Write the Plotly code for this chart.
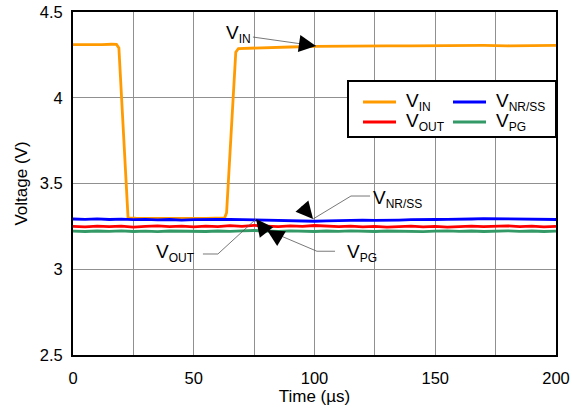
import plotly.graph_objects as go

# Time base (µs) for the regulated rails
t_us = [0, 5, 10, 15, 20, 25, 30, 35, 40, 45, 50, 55, 60, 65, 70, 75, 80, 85, 90, 95,
        100, 105, 110, 115, 120, 125, 130, 135, 140, 145, 150, 155, 160, 165, 170, 175,
        180, 185, 190, 195, 200]

v_nrss = [3.293, 3.291, 3.294, 3.290, 3.292, 3.289, 3.291, 3.288, 3.290, 3.287, 3.289,
          3.288, 3.290, 3.291, 3.289, 3.290, 3.286, 3.284, 3.282, 3.281, 3.280, 3.282,
          3.284, 3.283, 3.286, 3.285, 3.288, 3.287, 3.289, 3.288, 3.290, 3.291, 3.290,
          3.293, 3.295, 3.294, 3.292, 3.290, 3.291, 3.289, 3.290]

v_out = [3.250, 3.247, 3.252, 3.248, 3.251, 3.246, 3.250, 3.253, 3.248, 3.251, 3.247,
         3.252, 3.249, 3.254, 3.250, 3.256, 3.252, 3.249, 3.253, 3.250, 3.255, 3.251,
         3.248, 3.252, 3.247, 3.250, 3.246, 3.249, 3.251, 3.247, 3.250, 3.246, 3.249,
         3.252, 3.248, 3.250, 3.253, 3.249, 3.251, 3.247, 3.250]

v_pg = [3.222, 3.220, 3.223, 3.221, 3.224, 3.220, 3.222, 3.219, 3.223, 3.221, 3.222,
        3.220, 3.223, 3.221, 3.224, 3.226, 3.223, 3.221, 3.224, 3.222, 3.220, 3.223,
        3.221, 3.224, 3.222, 3.220, 3.223, 3.221, 3.222, 3.219, 3.222, 3.224, 3.221,
        3.223, 3.220, 3.222, 3.224, 3.221, 3.223, 3.220, 3.222]

# Input line-transient trace
t_in = [0, 4, 8, 12, 16, 18, 19, 22.8, 26, 30, 35, 40, 45, 50, 55, 60, 62.8, 63.6, 67.4,
        68.5, 75, 80, 90, 100, 110, 120, 130, 140, 150, 160, 170, 180, 190, 200]
v_in = [4.310, 4.309, 4.311, 4.310, 4.312, 4.311, 4.290, 3.300, 3.298, 3.299, 3.296,
        3.297, 3.295, 3.297, 3.296, 3.298, 3.300, 3.330, 4.265, 4.287, 4.291, 4.294,
        4.296, 4.300, 4.302, 4.301, 4.303, 4.302, 4.304, 4.303, 4.305, 4.303, 4.304,
        4.305]

C_IN, C_NR, C_OUT, C_PG = "#FF9B00", "#0000FF", "#FF0000", "#339966"
FONT = "Liberation Sans, Arial, sans-serif"
GRID = "#909090"


def vlabel(sub):
    """Voltage name with a small subscript."""
    return f"V<sub><span style='font-size:12px'>{sub}</span></sub>"


fig = go.Figure()
fig.add_trace(go.Scatter(x=t_in, y=v_in, mode="lines", line=dict(color=C_IN, width=2.8),
                         showlegend=False))
fig.add_trace(go.Scatter(x=t_us, y=v_pg, mode="lines", line=dict(color=C_PG, width=2.8),
                         showlegend=False))
fig.add_trace(go.Scatter(x=t_us, y=v_out, mode="lines", line=dict(color=C_OUT, width=2.8),
                         showlegend=False))
fig.add_trace(go.Scatter(x=t_us, y=v_nrss, mode="lines", line=dict(color=C_NR, width=2.8),
                         showlegend=False))

shapes = []
annotations = []

# Callout leader lines (data coordinates) and arrow tips
callouts = [
    # label, label position, leader polyline, arrow tip, arrow back-offset (px)
    ("IN", (68.5, 4.372), [(74.5, 4.354), (100.6, 4.302)], (100.6, 4.302), (-18, -2.6)),
    ("NR/SS", (134.5, 3.412), [(123.0, 3.427), (115.1, 3.427), (99.4, 3.293)], (99.4, 3.293), (-12.5, -14.5)),
    ("OUT", (42.5, 3.095), [(53.8, 3.089), (60.0, 3.089), (75.8, 3.293)], (75.8, 3.293), (10.5, 13.5)),
    ("PG", (119.5, 3.095), [(108.5, 3.105), (101.0, 3.105), (80.3, 3.229)], (80.3, 3.229), (16, 9.5)),
]
for sub, (lx, ly), pts, (tx, ty), (ax, ay) in callouts:
    path = "M " + " L ".join(f"{x},{y}" for x, y in pts)
    shapes.append(dict(type="path", path=path, xref="x", yref="y",
                       line=dict(color="#555555", width=0.8)))
    annotations.append(dict(x=lx, y=ly, xref="x", yref="y", text=vlabel(sub), showarrow=False,
                            font=dict(family=FONT, size=19, color="black")))
    annotations.append(dict(x=tx, y=ty, xref="x", yref="y", text="", showarrow=True,
                            ax=ax, ay=ay, axref="pixel", ayref="pixel",
                            arrowhead=2, arrowsize=3.4, arrowwidth=1, arrowcolor="black"))

# Boxed legend in the upper right of the plot
shapes.append(dict(type="rect", xref="paper", yref="paper",
                   x0=(348 - 73) / 483, x1=1.0, y0=(355 - 137) / 343, y1=(355 - 81) / 343,
                   fillcolor="white", line=dict(color="black", width=2), layer="above"))
legend_items = [
    ("IN", C_IN, 363, 102),
    ("NR/SS", C_NR, 453, 102),
    ("OUT", C_OUT, 363, 122),
    ("PG", C_PG, 453, 122),
]
for sub, color, px, py in legend_items:
    yy = (355 - py) / 343
    shapes.append(dict(type="line", xref="paper", yref="paper",
                       x0=(px - 73) / 483, x1=(px + 33 - 73) / 483, y0=yy, y1=yy,
                       line=dict(color=color, width=2.8), layer="above"))
    annotations.append(dict(x=(px + 41 - 73) / 483, y=yy, xref="paper", yref="paper",
                            text=vlabel(sub), showarrow=False, xanchor="left", yanchor="middle",
                            font=dict(family=FONT, size=19, color="black")))

fig.update_layout(
    width=572, height=408,
    margin=dict(l=73, r=16, t=12, b=53, autoexpand=False),
    paper_bgcolor="white", plot_bgcolor="white",
    font=dict(family=FONT, size=16.5, color="black"),
    shapes=shapes, annotations=annotations,
)
fig.update_xaxes(
    range=[0, 200], tickvals=[0, 50, 100, 150, 200], automargin=False,
    showgrid=True, gridcolor=GRID, gridwidth=1,
    minor=dict(dtick=25, showgrid=True, gridcolor=GRID, gridwidth=1),
    showline=True, linecolor="black", linewidth=2, mirror=True,
    zeroline=False, ticks="", ticklabelstandoff=7,
    title=dict(text="Time (µs)", font=dict(size=17), standoff=2),
)
fig.update_yaxes(
    range=[2.5, 4.5], tickvals=[2.5, 3, 3.5, 4, 4.5], ticktext=["2.5", "3", "3.5", "4", "4.5"],
    automargin=False,
    showgrid=True, gridcolor=GRID, gridwidth=1,
    showline=True, linecolor="black", linewidth=2, mirror=True,
    zeroline=False, ticks="", ticklabelstandoff=5,
    title=dict(text="Voltage (V)", font=dict(size=17), standoff=8),
)

fig.write_html("out.html")
